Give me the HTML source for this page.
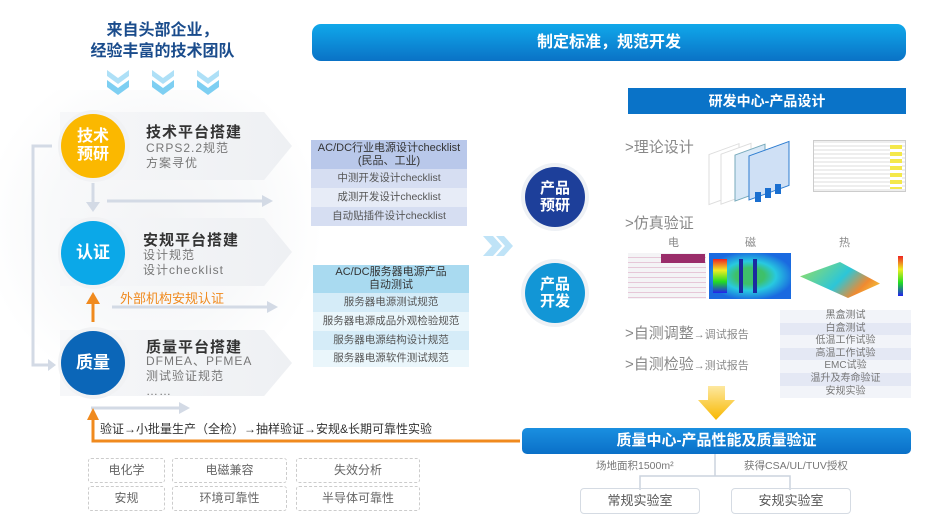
<!DOCTYPE html>
<html><head><meta charset="utf-8"><style>
*{margin:0;padding:0;box-sizing:border-box}
body{width:950px;height:528px;background:#fff;position:relative;overflow:hidden;font-family:"Liberation Sans","Noto Sans CJK SC",sans-serif}
.a{position:absolute}
.c{position:absolute;border-radius:50%;color:#fff;font-weight:bold;display:flex;align-items:center;justify-content:center;text-align:center;line-height:1.15}
.ring{position:absolute;border-radius:50%;background:#f1f2f4}
.band{position:absolute;background:linear-gradient(90deg,#f6f7f9,#eef0f3);clip-path:polygon(0 0,88% 0,100% 50%,88% 100%,0 100%)}
.tt{position:absolute;font-size:15px;font-weight:bold;color:#333;letter-spacing:1px}
.sb{position:absolute;font-size:12px;color:#777;line-height:15px;letter-spacing:1px}
.tb{position:absolute;font-size:10.5px;color:#555;text-align:center}
.tb div{height:19px;line-height:19px}
.db{position:absolute;border:1px dashed #ccc;border-radius:3px;font-size:12px;color:#666;text-align:center;line-height:22px}
.tr div{height:12.6px;line-height:12.6px;font-size:10px;color:#777;text-align:center}
</style></head><body>
<div class="a" style="left:0;top:90px;width:340px;height:340px;background:radial-gradient(ellipse 50% 50% at 45% 40%,#f3f4f6 0%,#f8f9fa 60%,rgba(255,255,255,0) 100%)"></div>
<div class="a" style="left:60px;top:20px;width:205px;text-align:center;color:#1a4c8c;font-weight:bold;font-size:16px;line-height:21px">来自头部企业，<br>经验丰富的技术团队</div>
<svg class="a" style="left:105px;top:68px" width="130" height="32">
<g fill="#aee0f7"><polygon points="2,2 13,10 24,2 24,8 13,16 2,8"/><polygon points="47,2 58,10 69,2 69,8 58,16 47,8"/><polygon points="92,2 103,10 114,2 114,8 103,16 92,8"/></g>
<g fill="#7ecff2"><polygon points="2,12 13,20 24,12 24,19 13,27 2,19"/><polygon points="47,12 58,20 69,12 69,19 58,27 47,19"/><polygon points="92,12 103,20 114,12 114,19 103,27 92,19"/></g></svg>
<div class="a" style="left:312px;top:24px;width:594px;height:37px;border-radius:9px;background:linear-gradient(180deg,#10a8ea,#0a72c6);color:#fff;font-weight:bold;font-size:16px;text-align:center;line-height:37px">制定标准，规范开发</div>

<div class="band" style="left:60px;top:112px;width:232px;height:68px"></div>
<div class="band" style="left:60px;top:218px;width:232px;height:68px"></div>
<div class="band" style="left:60px;top:330px;width:232px;height:66px"></div>

<svg class="a" style="left:0;top:0" width="520" height="528">
<path d="M52 146 H33 V365 H50" fill="none" stroke="#d3dae5" stroke-width="3"/>
<polygon points="48,359 56,365 48,371" fill="#d3dae5"/>
<line x1="93" y1="183" x2="93" y2="203" stroke="#d3dae5" stroke-width="3"/>
<polygon points="86,202 100,202 93,212" fill="#d3dae5"/>
<line x1="107" y1="201" x2="263" y2="201" stroke="#d3dae5" stroke-width="3"/>
<polygon points="262,195 273,201 262,207" fill="#d3dae5"/>
<line x1="112" y1="307" x2="268" y2="307" stroke="#d3dae5" stroke-width="3"/>
<polygon points="267,301 278,307 267,313" fill="#d3dae5"/>
<line x1="93" y1="322" x2="93" y2="302" stroke="#f08a1e" stroke-width="3"/>
<polygon points="86,304 100,304 93,292" fill="#f08a1e"/>
<line x1="91" y1="408" x2="180" y2="408" stroke="#d3dae5" stroke-width="3"/>
<polygon points="179,402 190,408 179,414" fill="#d3dae5"/>
<path d="M522 441 H93 V418" fill="none" stroke="#f08a1e" stroke-width="3"/>
<polygon points="87,420 99,420 93,408" fill="#f08a1e"/>
<g fill="#bfe3f7"><polygon points="483,236 493,236 502,246 493,256 483,256 492,246"/><polygon points="496,236 504,236 513,246 504,256 496,256 505,246"/></g>
</svg>

<div class="ring" style="left:58px;top:110px;width:72px;height:72px"></div>
<div class="c" style="left:61px;top:114px;width:64px;height:64px;background:#fbb800;font-size:16px">技术<br>预研</div>
<div class="ring" style="left:58px;top:217px;width:72px;height:72px"></div>
<div class="c" style="left:61px;top:221px;width:64px;height:64px;background:#0ba8e8;font-size:17px">认证</div>
<div class="ring" style="left:58px;top:327px;width:72px;height:72px"></div>
<div class="c" style="left:61px;top:331px;width:64px;height:64px;background:#0b66b8;font-size:17px">质量</div>

<div class="tt" style="left:146px;top:121px">技术平台搭建</div>
<div class="sb" style="left:146px;top:141px">CRPS2.2规范<br>方案寻优</div>
<div class="tt" style="left:143px;top:229px">安规平台搭建</div>
<div class="sb" style="left:143px;top:248px">设计规范<br>设计checklist</div>
<div class="tt" style="left:146px;top:336px">质量平台搭建</div>
<div class="sb" style="left:146px;top:354px">DFMEA、PFMEA<br>测试验证规范<br>……</div>
<div class="a" style="left:120px;top:288px;font-size:13px;color:#f08a1e">外部机构安规认证</div>

<div class="tb" style="left:311px;top:140px;width:156px">
<div style="height:29px;line-height:13px;padding-top:2px;background:#b9c8ea;color:#333;font-size:11px">AC/DC行业电源设计checklist<br>(民品、工业)</div>
<div style="background:#d6def2">中测开发设计checklist</div>
<div style="background:#e7ecf7">成测开发设计checklist</div>
<div style="background:#d6def2">自动贴插件设计checklist</div></div>
<div class="tb" style="left:313px;top:265px;width:156px">
<div style="height:28px;line-height:13px;padding-top:1px;background:#a9daf0;color:#333;font-size:11px">AC/DC服务器电源产品<br>自动测试</div>
<div style="background:#d5ecf8">服务器电源测试规范</div>
<div style="background:#eaf6fb">服务器电源成品外观检验规范</div>
<div style="background:#d5ecf8">服务器电源结构设计规范</div>
<div style="background:#eaf6fb;height:17px;line-height:17px">服务器电源软件测试规范</div></div>

<div class="ring" style="left:521px;top:163px;width:68px;height:68px;background:#eef1f5"></div>
<div class="c" style="left:525px;top:167px;width:60px;height:60px;background:#1d3f9a;font-size:15px">产品<br>预研</div>
<div class="ring" style="left:521px;top:259px;width:68px;height:68px;background:#eef1f5"></div>
<div class="c" style="left:525px;top:263px;width:60px;height:60px;background:#1296d6;font-size:15px">产品<br>开发</div>

<div class="a" style="left:628px;top:88px;width:278px;height:26px;background:#0a73c8;color:#fff;font-weight:bold;font-size:14px;text-align:center;line-height:26px">研发中心-产品设计</div>
<div class="a" style="left:625px;top:136px;font-size:15px;color:#888">&gt;理论设计</div>
<svg class="a" style="left:705px;top:140px" width="100" height="70"><g fill="#fff" stroke="#ddd"><rect x="4" y="16" width="30" height="50" transform="skewY(-20)" /><rect x="16" y="20" width="30" height="50" transform="skewY(-20)"/></g><g fill="#d8e8f7" stroke="#7ab"><rect x="30" y="26" width="30" height="46" transform="skewY(-20)"/></g><g fill="#cfe0f5" stroke="#2c7cd0"><rect x="44" y="32" width="40" height="44" transform="skewY(-20)"/></g><g fill="#1a6fd0"><rect x="50" y="52" width="6" height="10"/><rect x="60" y="48" width="6" height="10"/><rect x="70" y="44" width="6" height="10"/></g></svg>
<div class="a" style="left:813px;top:140px;width:93px;height:52px;background:repeating-linear-gradient(180deg,#eee 0 2px,#fff 2px 4px);border:1px solid #ccc"><div class="a" style="left:76px;top:4px;width:12px;height:44px;background:repeating-linear-gradient(180deg,#f4e84a 0 4px,#fff 4px 7px)"></div></div>
<div class="a" style="left:625px;top:212px;font-size:15px;color:#888">&gt;仿真验证</div>
<div class="a" style="left:668px;top:234px;font-size:11px;color:#888">电</div>
<div class="a" style="left:745px;top:234px;font-size:11px;color:#888">磁</div>
<div class="a" style="left:839px;top:234px;font-size:11px;color:#888">热</div>
<div class="a" style="left:628px;top:253px;width:78px;height:46px;background:repeating-linear-gradient(180deg,#f4f4f6 0 4px,#e6c8d8 4px 5px)"><div class="a" style="left:33px;top:1px;width:44px;height:9px;background:#9a2d6a"></div></div>
<div class="a" style="left:709px;top:253px;width:82px;height:46px;background:radial-gradient(ellipse at 50% 50%,#3ec06a 0 25%,#28c9e0 45%,#1a6ae0 75%)"><div class="a" style="left:30px;top:6px;width:4px;height:34px;background:#1a2aa0"></div><div class="a" style="left:44px;top:6px;width:4px;height:34px;background:#1a2aa0"></div><div class="a" style="left:4px;top:6px;width:14px;height:34px;background:linear-gradient(#e22,#ee2,#2d2,#22e)"></div></div>
<div class="a" style="left:800px;top:262px;width:80px;height:36px;background:linear-gradient(135deg,#9de05a,#2cc6d8 50%,#f08a30 75%,#f6e040);clip-path:polygon(0 40%,50% 0,100% 60%,60% 100%)"></div>
<div class="a" style="left:898px;top:256px;width:5px;height:40px;background:linear-gradient(#e22,#ee2,#2d2,#22e)"></div>
<div class="a" style="left:625px;top:322px;font-size:15px;color:#888">&gt;自测调整<span style="font-size:11px">→调试报告</span></div>
<div class="a" style="left:625px;top:353px;font-size:15px;color:#888">&gt;自测检验<span style="font-size:11px">→测试报告</span></div>
<div class="a tr" style="left:780px;top:310px;width:131px">
<div style="background:#f2f4f9">黑盒测试</div><div style="background:#e4e8f4">白盒测试</div><div style="background:#f2f4f9">低温工作试验</div><div style="background:#e4e8f4">高温工作试验</div><div style="background:#f2f4f9">EMC试验</div><div style="background:#e4e8f4">温升及寿命验证</div><div style="background:#f2f4f9">安规实验</div></div>
<svg class="a" style="left:697px;top:386px" width="40" height="36"><defs><linearGradient id="y" x1="0" y1="0" x2="0" y2="1"><stop offset="0" stop-color="#fde8a0"/><stop offset="1" stop-color="#f8b800"/></linearGradient></defs><polygon points="11,0 28,0 28,14 38,14 19,34 1,14 11,14" fill="url(#y)"/></svg>

<div class="a" style="left:522px;top:428px;width:389px;height:26px;border-radius:5px;background:linear-gradient(180deg,#1a8fe0,#0a70c8);color:#fff;font-weight:bold;font-size:15px;text-align:center;line-height:26px">质量中心-产品性能及质量验证</div>
<div class="a" style="left:100px;top:420px;font-size:12px;color:#333">验证→小批量生产（全检）→抽样验证→安规&amp;长期可靠性实验</div>

<div class="db" style="left:88px;top:458px;width:77px;height:25px">电化学</div>
<div class="db" style="left:172px;top:458px;width:115px;height:25px">电磁兼容</div>
<div class="db" style="left:296px;top:458px;width:124px;height:25px">失效分析</div>
<div class="db" style="left:88px;top:486px;width:77px;height:25px">安规</div>
<div class="db" style="left:172px;top:486px;width:115px;height:25px">环境可靠性</div>
<div class="db" style="left:296px;top:486px;width:124px;height:25px">半导体可靠性</div>

<div class="a" style="left:596px;top:458px;font-size:10.5px;color:#777">场地面积1500m²</div>
<div class="a" style="left:744px;top:458px;font-size:10.5px;color:#777">获得CSA/UL/TUV授权</div>
<svg class="a" style="left:600px;top:454px" width="260" height="36"><path d="M115 0 V22 M40 36 V22 H190 V36" fill="none" stroke="#ccd4de" stroke-width="1.5"/></svg>
<div class="a" style="left:580px;top:488px;width:120px;height:26px;border:1px solid #d5dbe3;border-radius:4px;font-size:13px;color:#555;text-align:center;line-height:24px">常规实验室</div>
<div class="a" style="left:731px;top:488px;width:120px;height:26px;border:1px solid #d5dbe3;border-radius:4px;font-size:13px;color:#555;text-align:center;line-height:24px">安规实验室</div>
</body></html>
